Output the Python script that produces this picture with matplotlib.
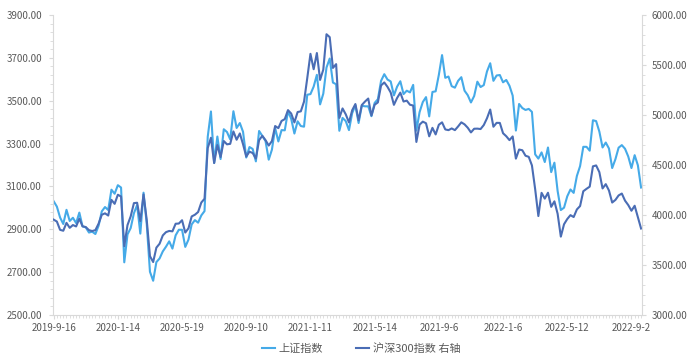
import matplotlib
matplotlib.use("Agg")
import matplotlib.pyplot as plt
from matplotlib.ticker import MultipleLocator, FormatStrFormatter
from matplotlib.lines import Line2D
import numpy as np

plt.rcParams['font.family'] = ['Noto Sans CJK SC', 'DejaVu Sans']

# one point every 4 trading days, a date label every 20 points
date_labels = ["2019-9-16", "2020-1-14", "2020-5-19", "2020-9-10", "2021-1-11",
               "2021-5-14", "2021-9-6", "2022-1-6", "2022-5-12", "2022-9-2"]

sh_index = [
    3031, 3006, 2955, 2925, 2991, 2939, 2954, 2929, 2978, 2914,
    2909, 2885, 2889, 2878, 2917, 2984, 3004, 2990, 3085, 3066,
    3106, 3095, 2746, 2876, 2906, 2975, 3013, 2880, 3071, 2924,
    2702, 2660, 2747, 2764, 2797, 2819, 2844, 2810, 2872, 2898,
    2898, 2818, 2852, 2923, 2943, 2931, 2965, 2985, 3332, 3450,
    3210, 3333, 3228, 3367, 3354, 3320, 3451, 3373, 3396, 3355,
    3235, 3284, 3275, 3217, 3359, 3336, 3312, 3225, 3272, 3373,
    3310, 3363, 3362, 3451, 3416, 3347, 3404, 3382, 3379, 3528,
    3531, 3566, 3621, 3483, 3533, 3655, 3697, 3585, 3577, 3360,
    3420, 3405, 3363, 3442, 3479, 3396, 3477, 3474, 3474, 3428,
    3490, 3507, 3593, 3624, 3599, 3590, 3525, 3566, 3591, 3531,
    3547, 3539, 3574, 3361, 3447, 3494, 3517, 3427, 3541, 3544,
    3621, 3713, 3607, 3613, 3568, 3561, 3593, 3610, 3547, 3526,
    3492, 3522, 3589, 3564, 3573, 3637, 3675, 3593, 3618, 3620,
    3586, 3597, 3570, 3524, 3361, 3485, 3466, 3457, 3462, 3448,
    3250, 3230, 3259, 3214, 3282, 3167, 3211, 3079, 2990, 3001,
    3054, 3086, 3070, 3149, 3195, 3285, 3285, 3267, 3409, 3405,
    3356, 3282, 3305, 3277, 3186, 3227, 3281, 3293, 3276, 3240,
    3186, 3246, 3199, 3095,
]

hs300_index = [
    3954, 3935, 3852, 3843, 3922, 3872, 3900, 3886, 3964, 3887,
    3880, 3849, 3840, 3849, 3914, 4003, 4017, 3995, 4152, 4112,
    4203, 4185, 3688, 3899, 3987, 4119, 4123, 3940, 4206, 3950,
    3589, 3530, 3674, 3713, 3796, 3829, 3841, 3837, 3913, 3915,
    3948, 3825, 3867, 3986, 4003, 4030, 4125, 4163, 4670, 4773,
    4520, 4700, 4580, 4740, 4707, 4712, 4836, 4753, 4816, 4708,
    4585, 4634, 4620, 4565, 4749, 4792, 4749, 4695, 4740, 4890,
    4869, 4941, 4959, 5049, 5015, 4926, 5030, 5037, 5134, 5368,
    5612, 5458, 5620, 5351, 5454, 5808, 5779, 5471, 5509, 4971,
    5066, 5007, 4926, 5048, 5110, 4947, 5100, 5135, 5165, 4995,
    5103, 5126, 5296, 5326, 5282, 5225, 5102, 5171, 5224, 5135,
    5144, 5103, 5095, 4731, 4904, 4934, 4918, 4787, 4872, 4806,
    4903, 4927, 4856, 4849, 4866, 4849, 4886, 4927, 4907, 4873,
    4826, 4863, 4864, 4860, 4900, 4968, 5055, 4883, 4922, 4921,
    4818, 4788, 4749, 4786, 4564, 4655, 4648, 4593, 4582, 4496,
    4260, 3990, 4222, 4164, 4223, 4082, 4137, 4013, 3784, 3908,
    3960, 3999, 3980, 4056, 4090, 4238, 4262, 4284, 4487, 4496,
    4429, 4266, 4309, 4245, 4125, 4151, 4196, 4215, 4144, 4100,
    4043, 4093, 3981, 3865,
]

light_blue = "#45AAE8"
dark_blue = "#4A6DB5"
axis_grey = "#D9D9D9"
text_grey = "#595959"

x = np.arange(len(sh_index))

fig = plt.figure(figsize=(6.93, 3.58), dpi=100)
ax = fig.add_axes([0.0765, 0.12, 0.8495, 0.838])
ax.plot(x, sh_index, color=light_blue, lw=1.5)

ax2 = ax.twinx()
ax2.plot(x, hs300_index, color=dark_blue, lw=1.5)

ax.set_xlim(-0.2, len(x) - 0.8)
ax.set_ylim(2500, 3900)
ax2.set_ylim(3000, 6000)

ax.set_xticks(np.arange(0, len(x), 20))
ax.set_xticklabels(date_labels)
ax.xaxis.set_minor_locator(MultipleLocator(1))
ax.set_yticks(np.arange(2500, 3901, 200))
ax.set_yticks(np.arange(2500, 3901, 40), minor=True)
ax2.set_yticks(np.arange(3000, 6001, 500))
ax2.set_yticks(np.arange(3000, 6001, 100), minor=True)
ax.yaxis.set_major_formatter(FormatStrFormatter("%.2f"))
ax2.yaxis.set_major_formatter(FormatStrFormatter("%.2f"))

for a in (ax, ax2):
    for s in a.spines.values():
        s.set_color(axis_grey)
        s.set_linewidth(0.8)
    a.spines['top'].set_visible(False)
ax.spines['right'].set_visible(False)
ax2.spines['left'].set_visible(False)
ax2.spines['bottom'].set_visible(False)

ax.tick_params(axis='both', which='major', length=3, color=axis_grey,
               labelsize=7, labelcolor=text_grey)
ax.tick_params(axis='both', which='minor', length=2, color=axis_grey)
ax.tick_params(axis='y', pad=5)
ax.tick_params(axis='x', pad=3)
ax2.tick_params(axis='y', which='major', length=3, color=axis_grey,
                labelsize=7, labelcolor=text_grey, pad=4)
ax2.tick_params(axis='y', which='minor', length=2, color=axis_grey)

handles = [Line2D([], [], color=light_blue, lw=1.5),
           Line2D([], [], color=dark_blue, lw=1.5)]
fig.legend(handles, ["上证指数", "沪深300指数 右轴"], loc='center',
           bbox_to_anchor=(0.521, 0.027), ncol=2, frameon=False,
           fontsize=8, handlelength=1.2, handletextpad=0.3, columnspacing=3,
           labelcolor=text_grey)

fig.savefig("out.png", dpi=100)
